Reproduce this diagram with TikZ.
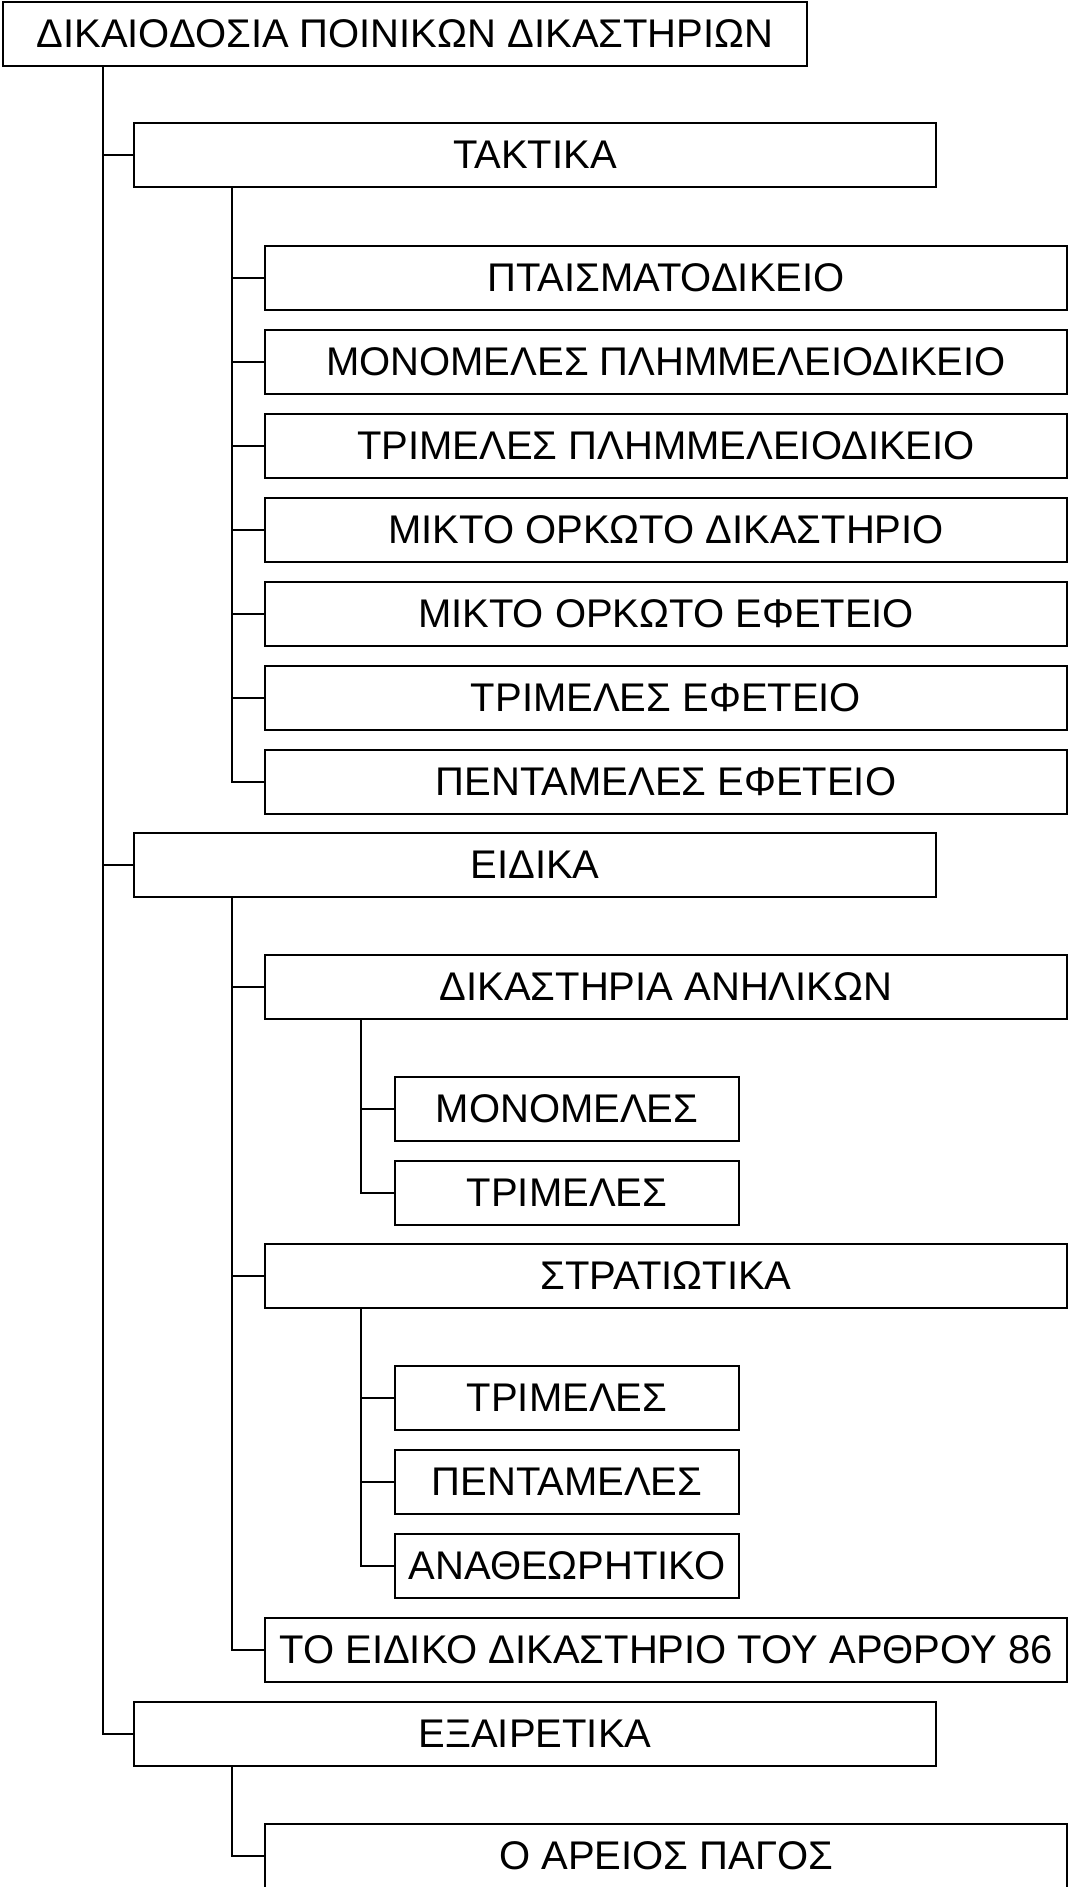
\documentclass[tikz,border=0pt]{standalone}
\usepackage{fontspec}
\setmainfont{Liberation Sans}
\tikzset{
  box/.style={draw, line width=2.4pt, minimum height=64pt, inner sep=0pt, font=\fontsize{40}{46}\selectfont},
  widebox/.style={box, minimum width=802pt},
  smallbox/.style={box, minimum width=344pt},
  link/.style={line width=2.4pt}
}
\begin{document}
\begin{tikzpicture}[x=1pt,y=-1pt]
\useasboundingbox (0,0) rectangle (1069,1887);
\node[box, minimum width=804pt] (root) at (405,34) { ΔΙΚΑΙΟΔΟΣΙΑ ΠΟΙΝΙΚΩΝ ΔΙΚΑΣΤΗΡΙΩΝ };
% first level
\node[widebox] (taktika) at (535,155) { ΤΑΚΤΙΚΑ };
\node[widebox] (eidika) at (535,865) { ΕΙΔΙΚΑ };
\node[widebox] (exairetika) at (535,1734) { ΕΞΑΙΡΕΤΙΚΑ };
\draw[link] (root.south west) ++(101,0) |- (taktika.west);
\draw[link] (root.south west) ++(101,0) |- (eidika.west);
\draw[link] (root.south west) ++(101,0) |- (exairetika.west);
% taktika
\node[widebox] (ptaismato) at (666,278) { ΠΤΑΙΣΜΑΤΟΔΙΚΕΙΟ };
\node[widebox] (monoplim) at (666,362) { ΜΟΝΟΜΕΛΕΣ ΠΛΗΜΜΕΛΕΙΟΔΙΚΕΙΟ };
\node[widebox] (triplim) at (666,446) { ΤΡΙΜΕΛΕΣ ΠΛΗΜΜΕΛΕΙΟΔΙΚΕΙΟ };
\node[widebox] (miktodik) at (666,530) { ΜΙΚΤΟ ΟΡΚΩΤΟ ΔΙΚΑΣΤΗΡΙΟ };
\node[widebox] (miktoef) at (666,614) { ΜΙΚΤΟ ΟΡΚΩΤΟ ΕΦΕΤΕΙΟ };
\node[widebox] (trief) at (666,698) { ΤΡΙΜΕΛΕΣ ΕΦΕΤΕΙΟ };
\node[widebox] (pentef) at (666,782) { ΠΕΝΤΑΜΕΛΕΣ ΕΦΕΤΕΙΟ };
\draw[link] (taktika.south west) ++(99,0) |- (ptaismato.west);
\draw[link] (taktika.south west) ++(99,0) |- (monoplim.west);
\draw[link] (taktika.south west) ++(99,0) |- (triplim.west);
\draw[link] (taktika.south west) ++(99,0) |- (miktodik.west);
\draw[link] (taktika.south west) ++(99,0) |- (miktoef.west);
\draw[link] (taktika.south west) ++(99,0) |- (trief.west);
\draw[link] (taktika.south west) ++(99,0) |- (pentef.west);
% eidika
\node[widebox] (anilikon) at (666,987) { ΔΙΚΑΣΤΗΡΙΑ ΑΝΗΛΙΚΩΝ };
\node[widebox] (stratiotika) at (666,1276) { ΣΤΡΑΤΙΩΤΙΚΑ };
\node[widebox] (arthro) at (666,1650) { ΤΟ ΕΙΔΙΚΟ ΔΙΚΑΣΤΗΡΙΟ ΤΟΥ ΑΡΘΡΟΥ 86 };
\draw[link] (eidika.south west) ++(99,0) |- (anilikon.west);
\draw[link] (eidika.south west) ++(99,0) |- (stratiotika.west);
\draw[link] (eidika.south west) ++(99,0) |- (arthro.west);
\node[smallbox] (animono) at (567,1109) { ΜΟΝΟΜΕΛΕΣ };
\node[smallbox] (anitri) at (567,1193) { ΤΡΙΜΕΛΕΣ };
\draw[link] (anilikon.south west) ++(97,0) |- (animono.west);
\draw[link] (anilikon.south west) ++(97,0) |- (anitri.west);
\node[smallbox] (strtri) at (567,1398) { ΤΡΙΜΕΛΕΣ };
\node[smallbox] (strpent) at (567,1482) { ΠΕΝΤΑΜΕΛΕΣ };
\node[smallbox] (stranath) at (567,1566) { ΑΝΑΘΕΩΡΗΤΙΚΟ };
\draw[link] (stratiotika.south west) ++(97,0) |- (strtri.west);
\draw[link] (stratiotika.south west) ++(97,0) |- (strpent.west);
\draw[link] (stratiotika.south west) ++(97,0) |- (stranath.west);
% exairetika
\node[widebox] (areios) at (666,1856) { Ο ΑΡΕΙΟΣ ΠΑΓΟΣ };
\draw[link] (exairetika.south west) ++(99,0) |- (areios.west);
\end{tikzpicture}
\end{document}
